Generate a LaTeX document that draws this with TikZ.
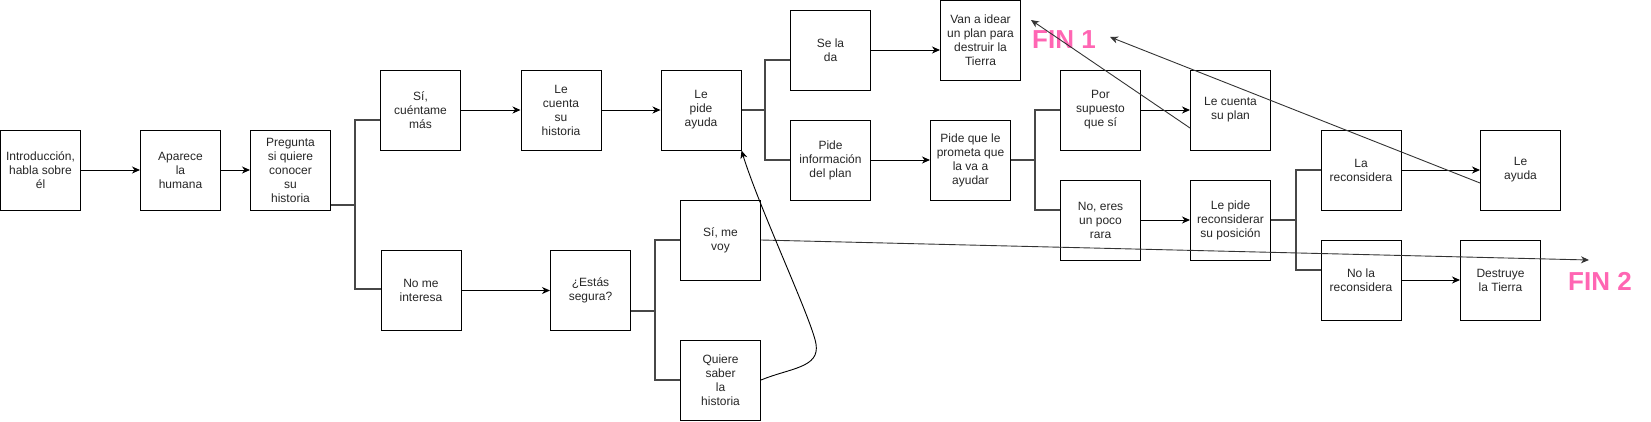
\documentclass[tikz,border=0pt]{standalone}
\usepackage{fontspec}
\setmainfont{Liberation Sans}
\usetikzlibrary{arrows.meta,calc}
\definecolor{finpink}{HTML}{FF66B3}
\tikzset{
  box/.style={draw=black,line width=1pt,minimum width=80pt,minimum height=80pt,inner sep=0pt,
    align=center,font=\fontsize{12}{14}\selectfont,text=black!85},
  arr/.style={draw=black,line width=1pt,-{Stealth[length=8pt,width=7pt,inset=2.5pt]}},
  longarr/.style={draw=black!80,line width=0.9pt,-{Stealth[length=8pt,width=7pt,inset=2.5pt]}},
  branch/.style={draw=black!72,line width=2.2pt,line join=miter},
  fin/.style={text=finpink,font=\fontsize{26}{28}\selectfont\bfseries,inner sep=0pt}
}
\begin{document}
\begin{tikzpicture}[x=1pt,y=-1pt]
\useasboundingbox (0,0) rectangle (1651,421);
% nodes
\node[box] (intro) at (40.5,170) {Introducción,\\habla sobre\\él};
\node[box] (aparece) at (180.5,170) {Aparece\\la\\humana};
\node[box] (pregunta) at (290.5,170) {Pregunta\\si quiere\\conocer\\su\\historia};
\node[box] (si) at (420.5,110) {Sí,\\cuéntame\\más};
\node[box] (cuenta) at (561,110) {Le\\cuenta\\su\\historia};
\node[box] (pide) at (701,110) {Le\\pide\\ayuda};
\node[box] (nome) at (421,290.5) {No me\\interesa};
\node[box] (estas) at (590.5,290.5) {¿Estás\\segura?};
\node[box] (voy) at (720.5,240) {Sí, me\\voy};
\node[box] (quiere) at (720.5,380) {Quiere\\saber\\la\\historia};
\node[box] (seda) at (830.5,50) {Se la\\da};
\node[box] (info) at (830.5,160) {Pide\\información\\del plan};
\node[box] (idear) at (980.5,40.5) {Van a idear\\un plan para\\destruir la\\Tierra};
\node[box] (promete) at (970.5,160) {Pide que le\\prometa que\\la va a\\ayudar};
\node[box] (supuesto) at (1100.5,110) {Por\\supuesto\\que sí};
\node[box] (rara) at (1100.5,220) {No, eres\\un poco\\rara};
\node[box] (plan) at (1230.5,110) {Le cuenta\\su plan};
\node[box] (repide) at (1230.5,220) {Le pide\\reconsiderar\\su posición};
\node[box] (lare) at (1361,170) {La\\reconsidera};
\node[box] (nolare) at (1361,280) {No la\\reconsidera};
\node[box] (ayuda) at (1520.5,170) {Le\\ayuda};
\node[box] (destruye) at (1500.5,280) {Destruye\\la Tierra};
\node[fin] (fin1) at (1064,40) {FIN 1};
\node[fin] (fin2) at (1600,281) {FIN 2};
% free ends
\coordinate (f1a) at (1031,20);
\coordinate (f1b) at (1110,37);
\coordinate (f2) at (1589,260);
% junctions
\coordinate (j1) at (355,205);
\coordinate (j2) at (765,110);
\coordinate (j3) at (655,311);
\coordinate (j4) at (1035,160);
\coordinate (j5) at (1296,220);
% branches
\draw[branch] ([yshift=-35pt]pregunta.east) -- (j1);
\draw[branch] ([yshift=-10pt]si.west) -| (j1) |- ([yshift=1.5pt]nome.west);
\draw[branch] (pide.east) -- (j2);
\draw[branch] ([yshift=-10pt]seda.west) -| (j2) |- (info.west);
\draw[branch] ([yshift=-20.5pt]estas.east) -- (j3);
\draw[branch] (voy.west) -| (j3) |- (quiere.west);
\draw[branch] (promete.east) -- (j4);
\draw[branch] (supuesto.west) -| (j4) |- ([yshift=10pt]rara.west);
\draw[branch] (repide.east) -- (j5);
\draw[branch] (lare.west) -| (j5) |- ([yshift=10pt]nolare.west);
% arrows
\draw[arr] (intro) -- (aparece);
\draw[arr] (aparece) -- (pregunta);
\draw[arr] (si) -- (cuenta);
\draw[arr] (cuenta) -- (pide);
\draw[arr] (nome) -- (estas);
\draw[arr] (seda.east) -- (seda.east -| idear.west);
\draw[arr] (info) -- (promete);
\draw[arr] (supuesto) -- (plan);
\draw[arr] (rara) -- (repide);
\draw[arr] (lare) -- (ayuda);
\draw[arr] (nolare) -- (destruye);
\draw[longarr] ([yshift=-18pt]plan.west) -- (f1a);
\draw[longarr] ([yshift=-13pt]ayuda.west) -- (f1b);
\draw[longarr] (voy.east) -- (f2);
\draw[arr,line width=0.9pt] (quiere.east) .. controls (790,368) and (820,368) .. (816,344)
   .. controls (812,320) and (760,210) .. (pide.south east);
\end{tikzpicture}
\end{document}
